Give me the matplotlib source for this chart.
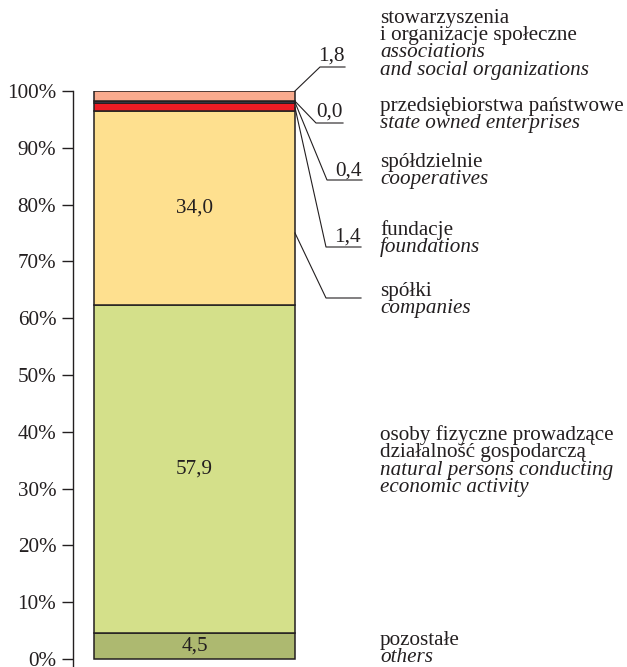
import numpy as np
import matplotlib
matplotlib.use("Agg")
import matplotlib.pyplot as plt

# shares in %, bottom to top
values = [4.5, 57.9, 34.0, 1.4, 0.4, 0.0, 1.8]
colors = ["#adb970", "#d4e08a", "#fee08f", "#ed1c24", "#6a80b4", "#6a80b4", "#f9ab8e"]
value_text = ["4,5", "57,9", "34,0", "1,4", "0,4", "0,0", "1,8"]
inside = [True, True, True, False, False, False, False]

pl_labels = [["pozostałe"],
             ["osoby fizyczne prowadzące", "działalność gospodarczą"],
             ["spółki"],
             ["fundacje"],
             ["spółdzielnie"],
             ["przedsiębiorstwa państwowe"],
             ["stowarzyszenia", "i organizacje społeczne"]]
en_labels = [["others"],
             ["natural persons conducting", "economic activity"],
             ["companies"],
             ["foundations"],
             ["cooperatives"],
             ["state owned enterprises"],
             ["associations", "and social organizations"]]

# pixel layout helpers
W, H = 627, 667
Y0, PPP = 659, 5.68   # pixel of 0 % and pixels per percent

plt.rcParams['font.family'] = ['Liberation Serif', 'DejaVu Serif']
fig = plt.figure(figsize=(W / 100, H / 100), dpi=100)
ax = fig.add_axes([73 / W, 0, (W - 73) / W, (H - 91) / H])
ax.set_xlim(73, W)
ax.set_ylim((Y0 - H) / PPP, 100)

def py(p):
    return (Y0 - p) / PPP

ink = "#231f20"
bottoms = np.concatenate([[0], np.cumsum(values)[:-1]])
ax.bar(194.5, values, width=201, bottom=bottoms, color=colors,
       edgecolor=ink, linewidth=1.1)

fs = 15.2
for v, b, t, ins in zip(values, bottoms, value_text, inside):
    if ins:
        ax.text(194.5, b + v / 2, t, ha="center", va="center", fontsize=fs, color=ink)

# label blocks: first baseline pixel per category
first_base = [645, 440, 296, 235, 167, 111, 22.5]
step = 17.4
for pl, en, yb in zip(pl_labels, en_labels, first_base):
    lines = [(s, "normal") for s in pl] + [(s, "italic") for s in en]
    for i, (s, st) in enumerate(lines):
        ax.text(380, py(yb + i * step), s, ha="left", va="baseline",
                fontsize=fs, style=st, color=ink)

# leader lines: (segment index, start y %, elbow x, elbow y px, end x, label baseline px)
tot = np.cumsum(values)
leaders = [
    (6, tot[6], 320, 67, 345, 61),
    (5, tot[5], 316, 123, 343, 117),
    (4, bottoms[4] + values[4] / 2, 327, 180, 362, 176),
    (3, bottoms[3] + values[3] / 2, 326, 247, 361, 242),
    (2, 75.0, 326, 298, 361, None),
]
for idx, y_start, ex, ey, endx, lb in leaders:
    ax.plot([295, ex, endx], [y_start, py(ey), py(ey)], color=ink,
            linewidth=0.8, clip_on=False)
    if lb is not None:
        ax.text(endx, py(lb), value_text[idx], ha="right", va="baseline",
                fontsize=fs, color=ink)

ax.spines[["top", "right", "bottom"]].set_visible(False)
ax.spines["left"].set_linewidth(1.0)
ax.spines["left"].set_color(ink)
ax.set_xticks([])
ax.set_yticks(np.arange(0, 101, 10))
ax.set_yticklabels([f"{t}%" for t in range(0, 101, 10)], fontsize=fs, color=ink)
ax.tick_params(axis="y", direction="out", length=8, width=1.0, pad=4, color=ink)
ax.patch.set_visible(False)

fig.savefig("out.png", dpi=100)
